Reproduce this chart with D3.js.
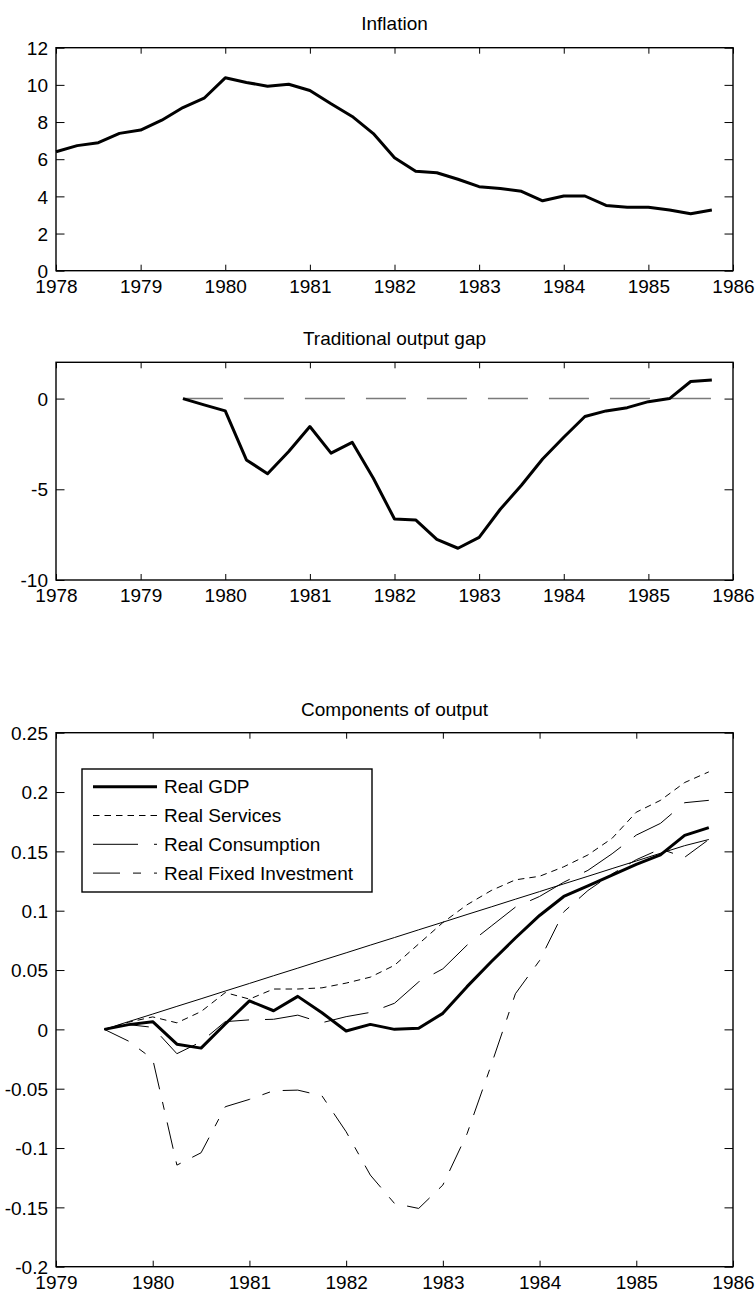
<!DOCTYPE html>
<html><head><meta charset="utf-8">
<script src="https://cdn.jsdelivr.net/npm/d3@7"></script>
<style>
body{margin:0;background:#fff}
svg text{font-family:"Liberation Sans",Arial,Helvetica,sans-serif;font-size:19px;fill:#000}
</style>
</head><body>
<svg id="c" width="756" height="1294"></svg>
<script>
// ---------- DATA ----------
const inflationQuarters = [1978.00,1978.25,1978.50,1978.75,1979.00,1979.25,1979.50,1979.75,
  1980.00,1980.25,1980.50,1980.75,1981.00,1981.25,1981.50,1981.75,
  1982.00,1982.25,1982.50,1982.75,1983.00,1983.25,1983.50,1983.75,
  1984.00,1984.25,1984.50,1984.75,1985.00,1985.25,1985.50,1985.75];
const inflation = [6.40,6.73,6.89,7.39,7.57,8.10,8.78,9.28,
  10.38,10.13,9.93,10.03,9.70,8.98,8.30,7.38,
  6.08,5.35,5.27,4.92,4.52,4.42,4.27,3.76,
  4.02,4.02,3.51,3.42,3.42,3.27,3.07,3.27];

const gapQuarters = [1979.50,1979.75,1980.00,1980.25,1980.50,1980.75,1981.00,1981.25,1981.50,1981.75,
  1982.00,1982.25,1982.50,1982.75,1983.00,1983.25,1983.50,1983.75,
  1984.00,1984.25,1984.50,1984.75,1985.00,1985.25,1985.50,1985.75];
const outputGap = [0,-0.35,-0.68,-3.38,-4.14,-2.92,-1.54,-3.01,-2.41,-4.39,
  -6.64,-6.69,-7.76,-8.25,-7.65,-6.10,-4.78,-3.33,
  -2.13,-0.99,-0.68,-0.50,-0.17,0.0,0.94,1.03];
const zeroLineX = [1979.50,1985.75];
const zeroLineY = [0,0];

const compQuarters = [1979.50,1979.75,1980.00,1980.25,1980.50,1980.75,1981.00,1981.25,1981.50,1981.75,
  1982.00,1982.25,1982.50,1982.75,1983.00,1983.25,1983.50,1983.75,
  1984.00,1984.25,1984.50,1984.75,1985.00,1985.25,1985.50,1985.75];
const realGDP = [0,0.004,0.0065,-0.0125,-0.0158,0.0045,0.024,0.0157,0.0278,0.014,
  -0.0014,0.0042,0,0.001,0.0135,0.036,0.057,0.077,
  0.096,0.112,0.121,0.130,0.139,0.147,0.1635,0.170];
const realServices = [0,0.006,0.0105,0.0055,0.015,0.031,0.0255,0.034,0.034,0.035,
  0.039,0.044,0.054,0.072,0.090,0.105,0.117,0.126,
  0.129,0.137,0.147,0.161,0.183,0.193,0.208,0.217];
const realConsumption = [0,0.004,0.0017,-0.0205,-0.0105,0.0065,0.008,0.0085,0.012,0.0056,
  0.0107,0.0143,0.022,0.040,0.051,0.071,0.087,0.103,
  0.112,0.124,0.134,0.148,0.1637,0.1736,0.191,0.193];
const realFixedInvestment = [0,-0.0099,-0.025,-0.1144,-0.104,-0.0652,-0.059,-0.0517,-0.0512,-0.056,
  -0.0863,-0.1228,-0.1467,-0.1509,-0.1312,-0.088,-0.030,0.030,
  0.058,0.099,0.117,0.131,0.143,0.152,0.145,0.160];
const outputTrend = [0,0.0065,0.0129,0.0194,0.0258,0.0323,0.0387,0.0452,0.0516,0.0581,
  0.0645,0.0710,0.0774,0.0839,0.0903,0.0968,0.1032,0.1097,
  0.1161,0.1226,0.1290,0.1355,0.1419,0.1484,0.1548,0.1600];

const yearTicks1 = [1978,1979,1980,1981,1982,1983,1984,1985,1986];
const yearTicks3 = [1979,1980,1981,1982,1983,1984,1985,1986];
const inflTicks = [0,2,4,6,8,10,12];
const gapTicks = [-10,-5,0];
const compTicks = [-0.2,-0.15,-0.1,-0.05,0,0.05,0.1,0.15,0.2,0.25];
const legendLabels = ["Real GDP","Real Services","Real Consumption","Real Fixed Investment"];

// ---------- DRAW ----------
const svg = d3.select("#c");
const L = 56, R = 733;

function panel(o){
  const x = d3.scaleLinear().domain(o.xDomain).range([L,R]);
  const y = d3.scaleLinear().domain(o.yDomain).range([o.bottom,o.top]);
  const g = svg.append("g");
  const fmt = o.fmt;
  const bx = g.append("g").attr("transform",`translate(0,${o.bottom})`)
    .call(d3.axisBottom(x).tickValues(o.xTicks).tickFormat(d3.format("d")).tickSizeInner(-6).tickSizeOuter(0).tickPadding(8.5));
  const tx = g.append("g").attr("transform",`translate(0,${o.top})`)
    .call(d3.axisTop(x).tickValues(o.xTicks).tickFormat("").tickSizeInner(-6).tickSizeOuter(0));
  const ly = g.append("g").attr("transform",`translate(${L},0)`)
    .call(d3.axisLeft(y).tickValues(o.yTicks).tickFormat(fmt).tickSizeInner(-8.5).tickSizeOuter(0).tickPadding(8));
  const ry = g.append("g").attr("transform",`translate(${R},0)`)
    .call(d3.axisRight(y).tickValues(o.yTicks).tickFormat("").tickSizeInner(-8.5).tickSizeOuter(0));
  [bx,tx,ly,ry].forEach(a=>{
    a.select(".domain").remove();
    a.selectAll("line").attr("stroke","#000").attr("stroke-width",1);
    a.selectAll("text").attr("font-size",null).attr("font-family",null).style("font-size","19px").attr("fill","#000");
  });
  ly.selectAll("text").attr("dy","0.35em");
  g.append("rect").attr("x",L).attr("y",o.top).attr("width",R-L).attr("height",o.bottom-o.top)
    .attr("fill","none").attr("stroke","#000").attr("stroke-width",1.4);
  g.append("text").attr("x",(L+R)/2).attr("y",o.titleY).attr("text-anchor","middle").text(o.title);
  return {x,y,g};
}
function drawLine(p, xs, ys, style){
  const line = d3.line().x(d=>p.x(d[0])).y(d=>p.y(d[1]));
  p.g.append("path").datum(d3.zip(xs,ys)).attr("d",line)
    .attr("fill","none").attr("stroke",style.color||"#000").attr("stroke-width",style.width)
    .attr("stroke-dasharray",style.dash||null).attr("stroke-linejoin","round");
}

// Panel 1
const p1 = panel({top:47.7,bottom:270.7,xDomain:[1978,1986],yDomain:[0,12],xTicks:yearTicks1,yTicks:inflTicks,
  fmt:d=>String(d),title:"Inflation",titleY:30});
drawLine(p1, inflationQuarters, inflation, {width:3});

// Panel 2
const p2 = panel({top:362.3,bottom:580,xDomain:[1978,1986],yDomain:[-10,2],xTicks:yearTicks1,yTicks:gapTicks,
  fmt:d=>String(d),title:"Traditional output gap",titleY:345});
drawLine(p2, zeroLineX, zeroLineY, {width:1.5,color:"#7a7a7a",dash:"40,21"});
drawLine(p2, gapQuarters, outputGap, {width:3});

// Panel 3
const p3 = panel({top:732.7,bottom:1266.7,xDomain:[1979,1986],yDomain:[-0.2,0.25],xTicks:yearTicks3,yTicks:compTicks,
  fmt:d=>d===0?"0":String(+d.toFixed(2)),title:"Components of output",titleY:716});
const styles = [
  {width:3},
  {width:1,dash:"6.5,5"},
  {width:1,dash:"45,16"},
  {width:1,dash:"27,13,8,13"}
];
drawLine(p3, compQuarters, outputTrend, {width:1});
drawLine(p3, compQuarters, realFixedInvestment, styles[3]);
drawLine(p3, compQuarters, realConsumption, styles[2]);
drawLine(p3, compQuarters, realServices, styles[1]);
drawLine(p3, compQuarters, realGDP, styles[0]);

// Legend
const lg = p3.g.append("g");
lg.append("rect").attr("x",82).attr("y",769).attr("width",290).attr("height",123)
  .attr("fill","#fff").attr("stroke","#000").attr("stroke-width",1.4);
legendLabels.forEach((lab,i)=>{
  const cy = 786.7 + i*28.8;
  lg.append("line").attr("x1",93).attr("x2",157).attr("y1",cy).attr("y2",cy)
    .attr("stroke","#000").attr("stroke-width",styles[i].width).attr("stroke-dasharray",styles[i].dash||null);
  lg.append("text").attr("x",164).attr("y",cy).attr("dy","0.35em").text(lab);
});
</script>
</body></html>
